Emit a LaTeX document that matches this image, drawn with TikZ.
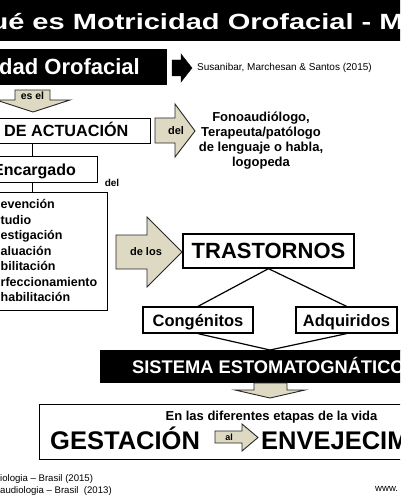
\documentclass[tikz,border=0pt]{standalone}
\usepackage{fontspec}
\setmainfont{Liberation Sans}
\usepackage{tikz}
\usetikzlibrary{calc, positioning}
\definecolor{tanfill}{HTML}{DDD9C3}
\newcommand{\bsz}[1]{\fontsize{#1}{#1}\selectfont\bfseries}

\begin{document}
\begin{tikzpicture}[x=1pt, y=-1pt,
    box/.style={draw, line width=1.3pt, fill=white},
    blackbox/.style={draw=black, fill=black},
    tanarrow/.style={draw=black!85, line width=0.9pt, fill=tanfill},
    link/.style={line width=1.2pt},
    lbl/.style={inner sep=0pt}]
  \useasboundingbox (0,0) rectangle (400,500);
  \clip (0,0) rectangle (400,500);
  % title bar
  \node[blackbox, anchor=north west, minimum width=402, minimum height=41] (titlebar) at (-1,-1) {};
  \node[lbl, anchor=base west, text=white, font=\bsz{22}, xscale=1.32] (titletxt) at (-9.7,29.3) {ué es Motricidad Orofacial - M};
  % black box and reference
  \node[blackbox, anchor=north west, minimum width=168, minimum height=35] (orofacial) at (-2,49) {};
  \node[lbl, anchor=base west, text=white, font=\bsz{22}] (orofacialtxt) at (-1,74.5) {dad Orofacial};
  \draw[fill=black] (172,60) -- (181,60) -- (181,54) -- (192,68) -- (181,82) -- (181,76) -- (172,76) -- cycle;
  \node[lbl, anchor=west, font=\fontsize{10}{12}\selectfont] (ref) at (197,68) {Susanibar, Marchesan \& Santos (2015)};
  % es el
  \draw[tanarrow] (15,90) -- (50,90) -- (50,100) -- (70,100) -- (33,112) -- (-4,100) -- (15,100) -- cycle;
  \node[lbl, font=\bsz{10.5}] (esel) at (32.5,96) {es el};
  % actuacion
  \node[box, anchor=north west, minimum width=155, minimum height=25] (actuacion) at (-5,118) {};
  \node[lbl, anchor=base west, font=\bsz{16.2}] (actuaciontxt) at (4,136) {DE ACTUACIÓN};
  \draw[tanarrow] (155,118) -- (175,118) -- (175,104) -- (195,131) -- (175,157) -- (175,143) -- (155,143) -- cycle;
  \node[lbl, font=\bsz{11}] (del1) at (176,131) {del};
  \node[lbl, align=center, font=\fontsize{13}{15}\selectfont\bfseries] (fono) at (261,140.5)
    {Fonoaudiólogo,\\Terapeuta/patólogo\\de lenguaje o habla,\\logopeda};
  % encargado
  \node[box, anchor=north west, minimum width=102, minimum height=26] (encargado) at (-5,156) {};
  \node[lbl, anchor=base west, font=\bsz{16}] (encargadotxt) at (-7,175) {Encargado};
  \node[lbl, font=\bsz{10}] (del2) at (112,183) {del};
  \draw[link] (esel |- actuacion.south) -- (esel |- encargado.north);
  % lista
  \node[box, anchor=north west, minimum width=112, minimum height=118] (lista) at (-5,192) {};
  \draw[link] (esel |- encargado.south) -- (esel |- lista.north);
  \foreach \w [count=\i] in {evención, tudio, estigación, aluación, bilitación, rfeccionamiento, habilitación}
    \node[lbl, anchor=base west, font=\bsz{12.5}] (item\i) at (0.5,193+15.5*\i) {\w};
  % de los
  \draw[tanarrow] (116,235) -- (147,235) -- (147,217) -- (182,252) -- (147,287) -- (147,269) -- (116,269) -- cycle;
  \node[lbl, font=\bsz{11}] (delos) at (146,252) {de los};
  % trastornos
  \node[box, minimum width=171, minimum height=34, font=\bsz{22}, text height=15.8, text depth=0] (trastornos) at (268.5,251) {TRASTORNOS};
  \node[box, minimum width=110, minimum height=26, font=\bsz{16.5}, text height=12, text depth=0] (congenitos) at (198,320) {Congénitos};
  \node[box, minimum width=101, minimum height=26, font=\bsz{16.5}, text height=12, text depth=0] (adquiridos) at (346.5,320) {Adquiridos};
  \draw[link] (trastornos.south) -- (congenitos.north);
  \draw[link] (trastornos.south) -- (adquiridos.north);
  % sistema
  \node[blackbox, anchor=north west, minimum width=320, minimum height=32] (sistema) at (100,350) {};
  \coordinate (sisTop) at (270,350);
  \draw[link] (congenitos.south) -- (sisTop) -- (adquiridos.south);
  \node[lbl, anchor=base west, text=white, font=\bsz{18.3}] (sistematxt) at (132,373.5) {SISTEMA ESTOMATOGNÁTICO};
  \draw[tanarrow] (254,383) -- (287,383) -- (287,390) -- (305,390) -- (270,398) -- (235,390) -- (254,390) -- cycle;
  % etapas
  \node[box, anchor=north west, minimum width=375, minimum height=55] (etapas) at (39,404) {};
  \node[lbl, font=\bsz{13}] (vida) at (271.5,417) {En las diferentes etapas de la vida};
  \node[lbl, anchor=base west, font=\bsz{25.5}] (gestacion) at (50,449) {GESTACIÓN};
  \draw[tanarrow] (215,431) -- (242,431) -- (242,424) -- (258,437.5) -- (242,451) -- (242,443) -- (215,443) -- cycle;
  \node[lbl, font=\bsz{9}] (al) at (229,437) {al};
  \node[lbl, anchor=base west, font=\bsz{25.5}] (envejecim) at (261,449) {ENVEJECIM};
  % footer
  \node[lbl, anchor=base west, font=\fontsize{9.6}{11}\selectfont] (foot1) at (0,481.5) {iologia – Brasil (2015)};
  \node[lbl, anchor=base west, font=\fontsize{9.6}{11}\selectfont] (foot2) at (0,493.5) {audiologia – Brasil\ \ (2013)};
  \node[lbl, anchor=base west, font=\fontsize{9.6}{11}\selectfont] (www) at (375,491) {www.};
\end{tikzpicture}
\end{document}
